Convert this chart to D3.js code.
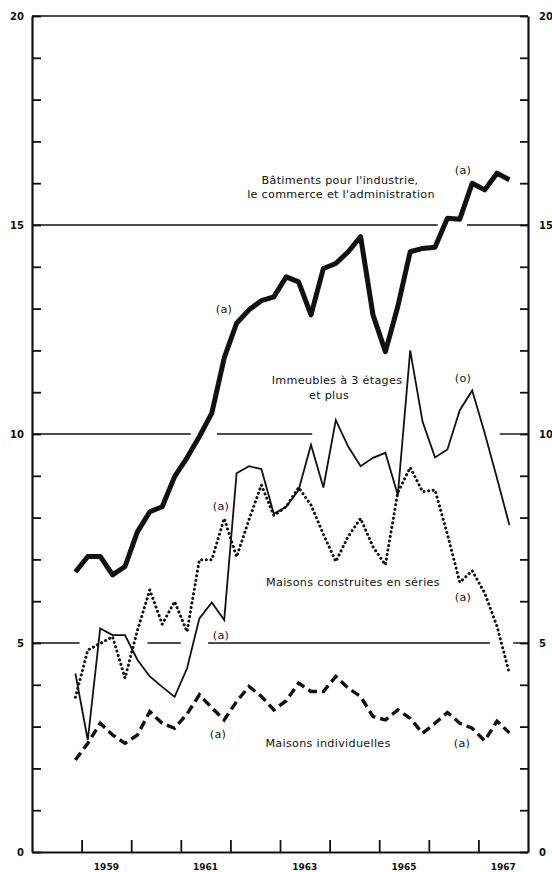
<!DOCTYPE html>
<html>
<head>
<meta charset="utf-8">
<script src="https://cdn.jsdelivr.net/npm/d3@7"></script>
<style>
  html, body { margin: 0; padding: 0; background: #fff; }
  svg { display: block; }
  text { font-family: "DejaVu Sans", sans-serif; fill: #111; }
</style>
</head>
<body>
<svg id="chart" width="552" height="872"></svg>
<script>
// quarterly series, 4th quarter 1958 -> 3rd quarter 1967
const firstQuarter = 1958.875;
const batiments = [6.7, 7.07, 7.07, 6.63, 6.83, 7.66, 8.14, 8.26, 8.98, 9.43, 9.94, 10.5,
  11.82, 12.65, 12.97, 13.19, 13.28, 13.76, 13.64, 12.85, 13.96, 14.08, 14.36, 14.72,
  12.85, 11.97, 13.05, 14.36, 14.44, 14.47, 15.16, 15.14, 16.0, 15.84, 16.24, 16.08];
const immeubles = [4.27, 2.68, 5.35, 5.19, 5.19, 4.6, 4.2, 3.95, 3.71, 4.39, 5.59, 5.97,
  5.55, 9.06, 9.23, 9.16, 8.09, 8.26, 8.66, 9.74, 8.72, 10.33, 9.7, 9.23,
  9.43, 9.55, 8.54, 12.0, 10.29, 9.44, 9.63, 10.57, 11.04, 10.03, 8.94, 7.82];
const series = [3.7, 4.83, 4.99, 5.15, 4.16, 5.3, 6.27, 5.45, 5.99, 5.27, 6.99, 6.99,
  7.98, 7.06, 7.95, 8.78, 8.05, 8.26, 8.72, 8.3, 7.6, 6.95, 7.55, 7.98,
  7.3, 6.87, 8.6, 9.2, 8.62, 8.66, 7.6, 6.45, 6.73, 6.2, 5.4, 4.27];
const individuelles = [2.2, 2.6, 3.08, 2.8, 2.6, 2.8, 3.36, 3.08, 2.96, 3.3, 3.76, 3.45,
  3.16, 3.6, 3.96, 3.72, 3.4, 3.62, 4.04, 3.84, 3.84, 4.2, 3.92, 3.72,
  3.24, 3.16, 3.4, 3.2, 2.84, 3.08, 3.34, 3.08, 2.96, 2.66, 3.13, 2.85];

const yearTicks = [1959, 1960, 1961, 1962, 1963, 1964, 1965, 1966, 1967];
const yearLabels = [1959, 1961, 1963, 1965, 1967];
const yLabels = [0, 5, 10, 15, 20];

// broken reference lines (gaps where the text/curves cross them)
const gridSegments = [
  { v: 5,  from: 1958,     to: 1958.96 },
  { v: 5,  from: 1960.33,  to: 1961.0 },
  { v: 5,  from: 1961.55,  to: 1967.23 },
  { v: 5,  from: 1967.7,   to: 1968 },
  { v: 10, from: 1958,     to: 1961.2 },
  { v: 10, from: 1961.73,  to: 1963.65 },
  { v: 10, from: 1967.43,  to: 1968 },
  { v: 15, from: 1958,     to: 1966.18 },
  { v: 15, from: 1966.77,  to: 1968 }
];

const labels = [
  { t: "Bâtiments pour l'industrie,", x: 340, y: 180 },
  { t: "le commerce et l'administration", x: 341, y: 194 },
  { t: "(a)", x: 463, y: 170 },
  { t: "(a)", x: 224, y: 309 },
  { t: "Immeubles à 3 étages", x: 337, y: 380 },
  { t: "et plus", x: 329, y: 395 },
  { t: "(o)", x: 463, y: 378 },
  { t: "(a)", x: 221, y: 506 },
  { t: "Maisons construites en séries", x: 353, y: 582 },
  { t: "(a)", x: 463, y: 597 },
  { t: "(a)", x: 221, y: 635 },
  { t: "(a)", x: 218, y: 734 },
  { t: "Maisons individuelles", x: 328, y: 743 },
  { t: "(a)", x: 462, y: 743 }
];

const svg = d3.select("#chart");
const x = d3.scaleLinear().domain([1958, 1968]).range([32, 528]);
const y = d3.scaleLinear().domain([0, 20]).range([852, 16]);
const qx = i => x(firstQuarter + 0.25 * i);

// frame
svg.append("line").attr("x1", x(1958)).attr("x2", x(1968)).attr("y1", y(20)).attr("y2", y(20))
  .attr("stroke", "#111").attr("stroke-width", 1.5);

// grid lines
svg.append("g").selectAll("line").data(gridSegments).enter().append("line")
  .attr("x1", d => x(d.from)).attr("x2", d => x(d.to))
  .attr("y1", d => y(d.v)).attr("y2", d => y(d.v))
  .attr("stroke", "#111").attr("stroke-width", 1.4);

// axes with inward ticks
const leftAxis = svg.append("g").attr("transform", `translate(${x(1958)},0)`)
  .call(d3.axisRight(y).ticks(20).tickSize(9).tickSizeOuter(0).tickFormat(""));
const rightAxis = svg.append("g").attr("transform", `translate(${x(1968)},0)`)
  .call(d3.axisLeft(y).ticks(20).tickSize(8).tickSizeOuter(0).tickFormat(""));
const bottomAxis = svg.append("g").attr("transform", `translate(0,${y(0)})`)
  .call(d3.axisTop(x).tickValues(yearTicks).tickSize(12).tickSizeOuter(0).tickFormat(""));
[leftAxis, rightAxis, bottomAxis].forEach(g => {
  g.select(".domain").attr("stroke", "#111").attr("stroke-width", 2.2);
  g.selectAll(".tick line").attr("stroke", "#111").attr("stroke-width", 1.8);
});

// y labels both sides
svg.append("g").selectAll("text").data(yLabels).enter().append("text")
  .attr("x", 24).attr("y", d => y(d) + 3.5)
  .attr("text-anchor", "end").attr("font-size", 10).attr("font-weight", "bold")
  .text(d => d);
svg.append("g").selectAll("text").data(yLabels).enter().append("text")
  .attr("x", 539).attr("y", d => y(d) + 3.5)
  .attr("text-anchor", "start").attr("font-size", 10).attr("font-weight", "bold")
  .text(d => d);

// x labels centred in the year
svg.append("g").selectAll("text").data(yearLabels).enter().append("text")
  .attr("x", d => x(d + 0.5)).attr("y", 870)
  .attr("text-anchor", "middle").attr("font-size", 9).attr("font-weight", "bold")
  .text(d => d);

const line = d3.line().x((d, i) => qx(i)).y(d => y(d));

svg.append("path").datum(individuelles).attr("d", line)
  .attr("fill", "none").attr("stroke", "#111").attr("stroke-width", 3.4)
  .attr("stroke-dasharray", "9 5");
svg.append("path").datum(series).attr("d", line)
  .attr("fill", "none").attr("stroke", "#111").attr("stroke-width", 3)
  .attr("stroke-linecap", "round").attr("stroke-dasharray", "0.1 4.5");
svg.append("path").datum(immeubles).attr("d", line)
  .attr("fill", "none").attr("stroke", "#111").attr("stroke-width", 1.8);
svg.append("path").datum(batiments).attr("d", line)
  .attr("fill", "none").attr("stroke", "#111").attr("stroke-width", 5)
  .attr("stroke-linejoin", "round");

// annotations
svg.append("g").selectAll("text").data(labels).enter().append("text")
  .attr("x", d => d.x).attr("y", d => d.y + 4)
  .attr("text-anchor", "middle").attr("font-size", 11.2)
  .attr("letter-spacing", 0.3)
  .text(d => d.t);
</script>
</body>
</html>
